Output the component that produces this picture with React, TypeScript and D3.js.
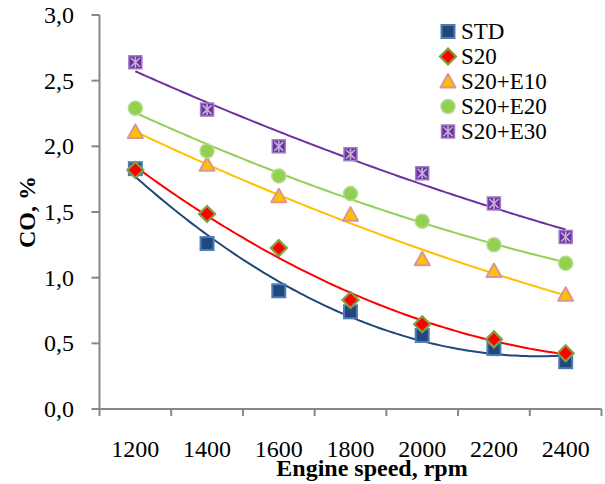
import React from "react";
import * as d3 from "d3";

const categories = ["1200", "1400", "1600", "1800", "2000", "2200", "2400"];
const stdValues = [1.83, 1.26, 0.9, 0.74, 0.56, 0.46, 0.36];
const s20Values = [1.82, 1.485, 1.225, 0.83, 0.645, 0.53, 0.425];
const s20e10Values = [2.11, 1.86, 1.62, 1.48, 1.14, 1.05, 0.87];
const s20e20Values = [2.29, 1.965, 1.775, 1.64, 1.43, 1.25, 1.11];
const s20e30Values = [2.64, 2.28, 2.0, 1.94, 1.795, 1.565, 1.31];
const seriesNames = ["STD", "S20", "S20+E10", "S20+E20", "S20+E30"];
const yTicks = [0, 0.5, 1, 1.5, 2, 2.5, 3];

const W = 605;
const H = 484;
const FONT = '"Liberation Serif", "Times New Roman", Times, "DejaVu Serif", serif';

type Style = { kind: string; fill: string; stroke: string; line: string; extra?: string };
const styles: Style[] = [
  { kind: "square", fill: "#1F497D", stroke: "#4F7CB8", line: "#1F497D" },
  { kind: "diamond", fill: "#FF0000", stroke: "#7FA040", line: "#FF0000" },
  { kind: "triangle", fill: "#FFC000", stroke: "#D99694", line: "#FFC000" },
  { kind: "circle", fill: "#92D050", stroke: "#B3DC8C", line: "#92D050" },
  { kind: "asterisk", fill: "#7030A0", stroke: "#9E80C4", line: "#7030A0", extra: "#C3B2DA" },
];

function polyFit2(ys: number[]) {
  const s = [0, 0, 0, 0, 0];
  const t = [0, 0, 0];
  ys.forEach((yv, i) => {
    const xv = i + 1;
    for (let k = 0; k < 5; k++) s[k] += Math.pow(xv, k);
    for (let k = 0; k < 3; k++) t[k] += yv * Math.pow(xv, k);
  });
  const A = [
    [s[0], s[1], s[2], t[0]],
    [s[1], s[2], s[3], t[1]],
    [s[2], s[3], s[4], t[2]],
  ];
  for (let i = 0; i < 3; i++) {
    for (let j = i + 1; j < 3; j++) {
      const f = A[j][i] / A[i][i];
      for (let k = i; k < 4; k++) A[j][k] -= f * A[i][k];
    }
  }
  const c = [0, 0, 0];
  for (let i = 2; i >= 0; i--) {
    let v = A[i][3];
    for (let k = i + 1; k < 3; k++) v -= A[i][k] * c[k];
    c[i] = v / A[i][i];
  }
  return (xv: number) => c[0] + c[1] * xv + c[2] * xv * xv;
}

function Marker({ st, cx, cy, size }: { st: Style; cx: number; cy: number; size: number }) {
  const h = size / 2;
  if (st.kind === "square") {
    return <rect x={cx - h} y={cy - h} width={size} height={size} fill={st.fill} stroke={st.stroke} strokeWidth={2} />;
  }
  if (st.kind === "diamond") {
    const r = h + 1.5;
    return (
      <path
        d={`M${cx},${cy - r}L${cx + r},${cy}L${cx},${cy + r}L${cx - r},${cy}Z`}
        fill={st.fill}
        stroke={st.stroke}
        strokeWidth={2.2}
      />
    );
  }
  if (st.kind === "triangle") {
    const r = h + 1;
    return (
      <path
        d={`M${cx},${cy - r}L${cx + r},${cy + r * 0.8}L${cx - r},${cy + r * 0.8}Z`}
        fill={st.fill}
        stroke={st.stroke}
        strokeWidth={2}
        strokeLinejoin="round"
      />
    );
  }
  if (st.kind === "circle") {
    return <circle cx={cx} cy={cy} r={h + 0.5} fill={st.fill} stroke={st.stroke} strokeWidth={1.5} />;
  }
  const a = h - 2;
  return (
    <g>
      <rect x={cx - h} y={cy - h} width={size} height={size} fill={st.fill} stroke={st.stroke} strokeWidth={1.5} />
      <path
        d={`M${cx - a},${cy - a}L${cx + a},${cy + a}M${cx + a},${cy - a}L${cx - a},${cy + a}M${cx},${cy - a - 1}L${cx},${cy + a + 1}`}
        stroke={st.extra}
        strokeWidth={1.6}
      />
    </g>
  );
}

const textStyle: React.CSSProperties = { fontFamily: FONT };

export default function App() {
  const left = 99.5;
  const right = 601.5;
  const top = 15;
  const bottom = 409;
  const x = d3.scaleBand<string>().domain(categories).range([left, right]);
  const xc = (c: string) => (x(c) as number) + x.bandwidth() / 2;
  const y = d3.scaleLinear().domain([0, 3]).range([bottom, top]);
  const fmt = (v: number) => d3.format(".1f")(v).replace(".", ",");
  const allSeries = [stdValues, s20Values, s20e10Values, s20e20Values, s20e30Values];
  const xi = d3
    .scaleLinear()
    .domain([1, categories.length])
    .range([xc(categories[0]), xc(categories[categories.length - 1])]);

  const trend = allSeries.map((vals) => {
    const f = polyFit2(vals);
    const pts = d3.range(1, vals.length + 0.001, 0.05).map((t) => [xi(t), y(f(t))] as [number, number]);
    return d3.line()(pts) as string;
  });

  const axisColor = "#878787";
  const legendX = 448;
  const legendY0 = 31.5;
  const legendStep = 25;

  return (
    <div style={{ position: "fixed", left: 0, top: 0, width: W, height: H, background: "#fff" }}>
      <svg width={W} height={H} style={{ display: "block", fontFamily: FONT }}>
        <rect width={W} height={H} fill="#fff" />
        {trend.map((d, i) => (
          <path key={"t" + i} d={d} fill="none" stroke={styles[i].line} strokeWidth={2} />
        ))}
        <line x1={left} x2={left} y1={top} y2={bottom + 7} stroke={axisColor} strokeWidth={2} />
        <line x1={left} x2={right} y1={bottom} y2={bottom} stroke={axisColor} strokeWidth={2} />
        {yTicks.map((t) => (
          <g key={"y" + t}>
            <line x1={left - 8} x2={left} y1={y(t)} y2={y(t)} stroke={axisColor} strokeWidth={2} />
            <text x={74} y={y(t)} dy="0.34em" textAnchor="end" fontSize={24} fill="#000" style={textStyle}>
              {fmt(t)}
            </text>
          </g>
        ))}
        {categories.map((c) => (
          <g key={"x" + c}>
            <line
              x1={(x(c) as number) + x.bandwidth()}
              x2={(x(c) as number) + x.bandwidth()}
              y1={bottom}
              y2={bottom + 7}
              stroke={axisColor}
              strokeWidth={2}
            />
            <text x={xc(c)} y={457} textAnchor="middle" fontSize={24} fill="#000" style={textStyle}>
              {c}
            </text>
          </g>
        ))}
        {allSeries.map((vals, si) =>
          vals.map((v, i) => (
            <Marker key={`m${si}-${i}`} st={styles[si]} cx={xc(categories[i])} cy={y(v)} size={13} />
          ))
        )}
        <text x={372} y={476} textAnchor="middle" fontSize={24} fontWeight="bold" fill="#000" style={textStyle}>
          Engine speed, rpm
        </text>
        <text
          transform={`translate(35, ${(top + bottom) / 2}) rotate(-90)`}
          textAnchor="middle"
          fontSize={24}
          fontWeight="bold"
          fill="#000"
          style={textStyle}
        >
          CO, %
        </text>
        {seriesNames.map((name, i) => (
          <g key={"l" + name}>
            <Marker st={styles[i]} cx={legendX} cy={legendY0 + i * legendStep} size={13} />
            <text x={461} y={legendY0 + i * legendStep} dy="0.34em" fontSize={23} fill="#000" style={textStyle}>
              {name}
            </text>
          </g>
        ))}
      </svg>
    </div>
  );
}
